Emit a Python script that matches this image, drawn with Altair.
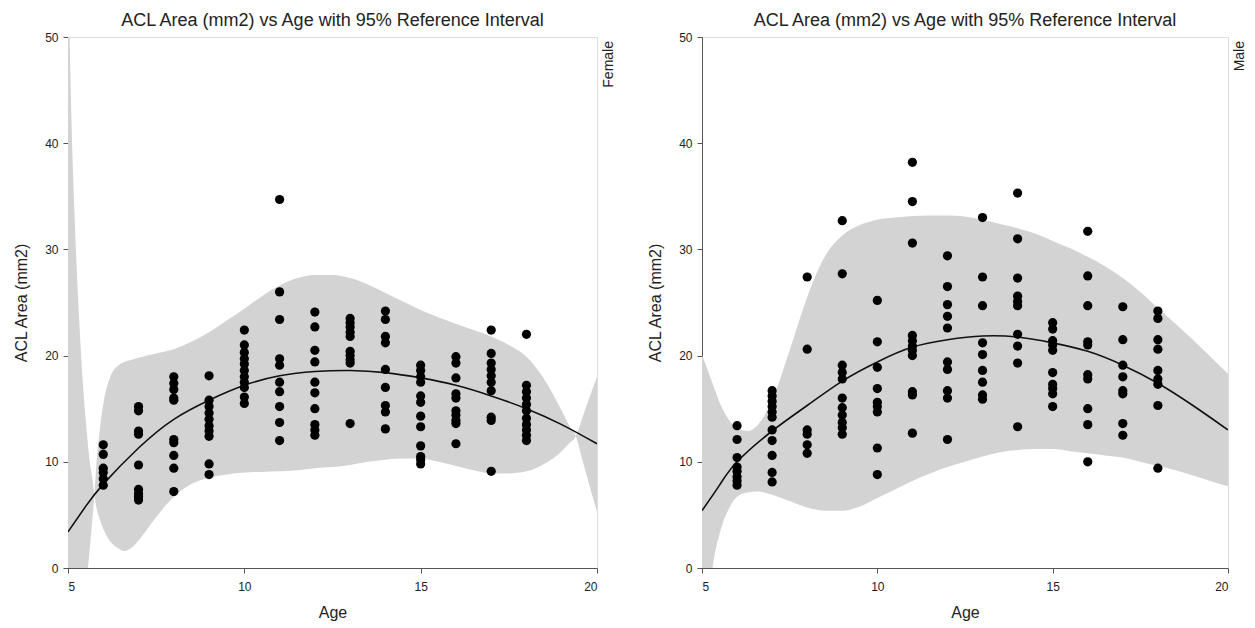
import altair as alt
import pandas as pd

FONT = "Liberation Sans"
TITLE = "ACL Area (mm2) vs Age with 95% Reference Interval"

# ---------------- Female: observed ACL areas by age ----------------
F06 = [11.6, 10.7, 9.4, 9.0, 8.4, 7.8]
F07 = [15.2, 14.8, 12.9, 12.6, 9.7, 7.4, 7.0, 6.7, 6.4]
F08 = [18.0, 17.4, 16.8, 16.0, 15.8, 12.1, 11.8, 10.6, 9.4, 7.2]
F09 = [18.1, 15.8, 15.2, 14.6, 14.0, 13.4, 12.9, 12.4, 9.8, 8.8]
F10 = [22.4, 21.0, 20.3, 19.7, 19.2, 18.6, 18.0, 17.5, 17.0, 16.1, 15.5]
F11 = [34.7, 26.0, 23.4, 19.7, 19.1, 17.5, 16.6, 15.2, 13.7, 12.0]
F12 = [24.1, 22.7, 20.5, 19.4, 17.5, 16.5, 15.0, 13.5, 13.0, 12.5]
F13 = [23.5, 23.1, 22.7, 22.2, 21.8, 20.4, 20.0, 19.6, 19.3, 13.6]
F14 = [24.2, 23.4, 21.8, 21.2, 18.7, 17.0, 15.3, 14.7, 13.1]
F15 = [19.1, 18.6, 18.0, 17.5, 16.2, 15.6, 14.3, 13.3, 11.5, 10.5, 10.2, 9.8]
F16 = [19.9, 19.3, 17.9, 16.4, 16.0, 14.8, 14.4, 13.9, 13.6, 11.7]
F17 = [22.4, 20.2, 19.3, 18.7, 18.1, 17.5, 16.7, 14.2, 13.9, 9.1]
F18 = [22.0, 17.2, 16.6, 16.0, 15.4, 14.8, 14.1, 13.5, 13.0, 12.5, 12.0]

# ---------------- Male: observed ACL areas by age ----------------
M06 = [13.4, 12.1, 10.4, 9.5, 9.1, 8.6, 8.2, 7.8]
M07 = [16.7, 16.2, 15.7, 15.2, 14.7, 14.2, 13.0, 12.0, 10.6, 9.0, 8.1]
M08 = [27.4, 20.6, 13.0, 12.6, 11.6, 10.8]
M09 = [32.7, 27.7, 19.1, 18.4, 17.8, 16.0, 15.1, 14.4, 13.7, 13.2, 12.6]
M10 = [25.2, 21.3, 18.9, 16.9, 15.6, 15.2, 14.7, 11.3, 8.8]
M11 = [38.2, 34.5, 30.6, 21.9, 21.4, 20.9, 20.5, 20.0, 16.6, 16.3, 12.7]
M12 = [29.4, 26.5, 24.8, 23.7, 22.6, 19.4, 18.7, 16.7, 16.0, 12.1]
M13 = [33.0, 27.4, 24.7, 21.2, 20.1, 18.6, 17.5, 16.3, 15.9]
M14 = [35.3, 31.0, 27.3, 25.6, 25.1, 24.7, 22.0, 20.9, 19.3, 13.3]
M15 = [23.1, 22.5, 21.4, 21.0, 20.5, 18.4, 17.3, 16.9, 16.4, 15.2]
M16 = [31.7, 27.5, 24.7, 21.3, 21.0, 18.2, 17.8, 15.0, 13.5, 10.0]
M17 = [24.6, 21.5, 19.1, 18.0, 16.7, 16.4, 13.6, 12.5]
M18 = [24.2, 23.5, 21.5, 20.6, 18.6, 17.8, 17.3, 15.3, 9.4]

# ---------------- fitted mean curves ----------------
CURVE_AGE = [5, 5.5, 6, 7, 8, 9, 10, 11, 12, 13, 14, 15, 16, 17, 18, 19, 20]
F_FIT = [3.4, 5.8, 7.9, 11.3, 14.0, 15.8, 17.2, 18.1, 18.5, 18.6, 18.4, 17.9, 17.2, 16.2, 15.0, 13.5, 11.7]
M_FIT = [5.4, 7.8, 10.0, 12.9, 15.3, 17.6, 19.4, 20.8, 21.5, 21.85, 21.75, 21.2, 20.4, 19.1, 17.4, 15.3, 13.0]

# ---------------- 95% reference interval bands ----------------
F_BAND_AGE = [5.0, 5.1, 5.2, 5.3, 5.4, 5.5, 5.6, 5.7, 5.75, 5.8, 5.9, 6.0, 6.2, 6.4, 6.6, 6.8,
              7.0, 7.5, 8.0, 8.5, 9.0, 9.5, 10.0, 10.5, 11.0, 11.5, 12.0, 12.5, 13.0, 13.5,
              14.0, 14.5, 15.0, 15.5, 16.0, 16.5, 17.0, 17.5, 18.0, 18.5, 19.0, 19.2, 19.4,
              19.6, 19.8, 20.0]
F_BAND_A = [58, 42, 32, 24.5, 18.5, 14.0, 10.5, 8.2, 6.9, 5.8, 4.6, 3.7, 2.5, 1.9, 1.6, 1.9,
            2.6, 4.8, 6.7, 7.9, 8.5, 8.8, 9.0, 9.05, 9.1, 9.2, 9.4, 9.5, 9.7, 10.0,
            10.2, 10.3, 10.3, 10.0, 9.6, 9.2, 8.9, 8.9, 9.1, 9.8, 11.0, 11.7, 12.4,
            14.3, 16.2, 18.0]
F_BAND_B = [-40, -25, -15, -9, -5, -2, 1.2, 5.0, 6.9, 9.5, 13.0, 15.4, 18.0, 19.0, 19.4, 19.6,
            19.8, 20.2, 20.6, 21.3, 22.2, 23.3, 24.4, 25.6, 26.6, 27.3, 27.6, 27.6, 27.3, 26.7,
            25.9, 25.1, 24.3, 23.6, 23.0, 22.4, 21.8, 21.0, 19.9, 17.8, 14.8, 13.5, 12.4,
            10.0, 7.6, 5.3]

M_BAND_AGE = [5.0, 5.1, 5.2, 5.3, 5.4, 5.5, 5.6, 5.7, 5.8, 6.0, 6.3, 6.6, 7.0, 7.5, 8.0, 8.5,
              9.0, 9.5, 10.0, 10.5, 11.0, 11.5, 12.0, 12.5, 13.0, 13.5, 14.0, 14.5, 15.0,
              15.5, 16.0, 16.5, 17.0, 17.5, 18.0, 18.5, 19.0, 19.5, 20.0]
M_BAND_LO = [-14, -8, -3, 0.0, 1.9, 3.2, 4.3, 5.1, 5.8, 6.7, 7.1, 7.2, 6.9, 6.3, 5.7, 5.4,
             5.4, 5.8, 6.6, 7.4, 8.2, 8.9, 9.5, 10.0, 10.5, 10.9, 11.1, 11.2, 11.2,
             11.0, 10.8, 10.6, 10.4, 10.0, 9.6, 9.2, 8.7, 8.2, 7.7]
M_BAND_HI = [20.0, 19.2, 18.3, 17.4, 16.5, 15.6, 14.9, 14.3, 13.8, 13.2, 12.9, 13.5, 15.8, 20.5, 25.5, 29.3,
             31.3, 32.3, 32.8, 33.0, 33.15, 33.2, 33.2, 33.1, 32.8, 32.4, 32.0, 31.5, 30.8,
             30.1, 29.3, 28.4, 27.3, 26.0, 24.5, 23.0, 21.5, 19.9, 18.3]


def points_frame(groups):
    rows = []
    for age, vals in groups:
        for v in vals:
            rows.append({"age": age, "area": v})
    return pd.DataFrame(rows)


f_points = points_frame([(6, F06), (7, F07), (8, F08), (9, F09), (10, F10), (11, F11), (12, F12),
                         (13, F13), (14, F14), (15, F15), (16, F16), (17, F17), (18, F18)])
m_points = points_frame([(6, M06), (7, M07), (8, M08), (9, M09), (10, M10), (11, M11), (12, M12),
                         (13, M13), (14, M14), (15, M15), (16, M16), (17, M17), (18, M18)])

f_curve = pd.DataFrame({"age": CURVE_AGE, "fit": F_FIT})
m_curve = pd.DataFrame({"age": CURVE_AGE, "fit": M_FIT})
f_band = pd.DataFrame({"age": F_BAND_AGE, "a": F_BAND_A, "b": F_BAND_B})
m_band = pd.DataFrame({"age": M_BAND_AGE, "a": M_BAND_LO, "b": M_BAND_HI})

H = 531
AXIS_COLOR = "#555555"
LABEL_COLOR = "#222222"


def panel(points, curve, band, label, width):
    xs = alt.Scale(domain=[5, 20], nice=False, zero=False)
    ys = alt.Scale(domain=[0, 50], nice=False)
    xax = alt.Axis(values=[5, 10, 15, 20], title="Age", grid=False, tickSize=5,
                   labelPadding=8, titlePadding=12, labelFontSize=12, titleFontSize=16,
                   labelFont=FONT, titleFont=FONT, domainColor=AXIS_COLOR, tickColor=AXIS_COLOR,
                   labelColor=LABEL_COLOR, titleColor=LABEL_COLOR, titleFontWeight="normal")
    yax = alt.Axis(values=[0, 10, 20, 30, 40, 50], title="ACL Area (mm2)", grid=False, tickSize=5,
                   labelPadding=5, titlePadding=15, labelFontSize=12, titleFontSize=16,
                   labelFont=FONT, titleFont=FONT, domainColor=AXIS_COLOR, tickColor=AXIS_COLOR,
                   labelColor=LABEL_COLOR, titleColor=LABEL_COLOR, titleFontWeight="normal")
    area = alt.Chart(band).mark_area(color="#d3d3d3", opacity=1, clip=True,
                                     interpolate="monotone").encode(
        x=alt.X("age:Q", scale=xs, axis=xax),
        y=alt.Y("a:Q", scale=ys, axis=yax),
        y2="b:Q",
    )
    line = alt.Chart(curve).mark_line(color="#111111", strokeWidth=1.6,
                                      interpolate="natural", clip=True).encode(
        x=alt.X("age:Q", scale=xs), y=alt.Y("fit:Q", scale=ys))
    dots = alt.Chart(points).mark_circle(color="black", opacity=1, size=85).encode(
        x=alt.X("age:Q", scale=xs), y=alt.Y("area:Q", scale=ys))
    tag = alt.Chart(pd.DataFrame({"t": [label]})).mark_text(
        angle=270, align="right", baseline="middle", fontSize=14, font=FONT,
        color=LABEL_COLOR).encode(x=alt.value(width + 12), y=alt.value(4), text="t:N")
    return alt.layer(area, line, dots, tag).properties(
        width=width, height=H,
        title=alt.TitleParams(TITLE, fontSize=18, font=FONT, fontWeight="normal",
                              color=LABEL_COLOR, anchor="middle", offset=1))


left = panel(f_points, f_curve, f_band, "Female", 529)
right = panel(m_points, m_curve, m_band, "Male", 526)

chart = alt.hconcat(left, right, spacing=30).properties(
    padding={"left": 13, "top": 11, "right": 0, "bottom": 0}
).configure_view(stroke=None).configure(background="white")

chart.save("out.html", embed_options={"renderer": "svg", "actions": False})
